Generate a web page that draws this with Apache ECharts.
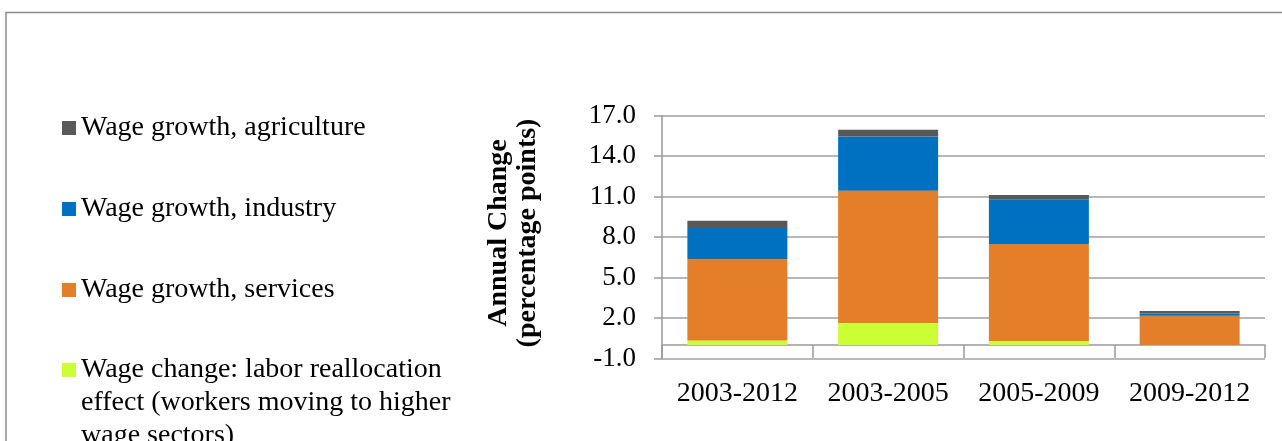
<!DOCTYPE html>
<html>
<head>
<meta charset="utf-8">
<script src="https://cdn.jsdelivr.net/npm/echarts@6/dist/echarts.min.js"></script>
<style>html,body{margin:0;padding:0;background:#fff}#c{width:1282px;height:441px}</style>
</head>
<body>
<div id="c"></div>
<script>
const categories = ['2003-2012', '2003-2005', '2005-2009', '2009-2012'];
const realloc = [0.34, 1.63, 0.30, 0.00];
const services = [6.03, 9.80, 7.18, 2.17];
const industry = [2.30, 4.02, 3.31, 0.17];
const agriculture = [0.54, 0.50, 0.32, 0.17];
const names = {
  agri: 'Wage growth, agriculture',
  ind: 'Wage growth, industry',
  serv: 'Wage growth, services',
  real: 'Wage change: labor reallocation'
};
const reallocLabel = 'Wage change: labor reallocation\neffect (workers moving to higher\nwage sectors)';

const FONT = '"Liberation Serif", "Times New Roman", serif';
const chart = echarts.init(document.getElementById('c'), null, {renderer: 'canvas'});
const bar = (name, data, color) => ({
  name, type: 'bar', stack: 'total', data, barWidth: 100,
  itemStyle: {color}, emphasis: {disabled: true}
});
chart.setOption({
  animation: false,
  textStyle: {fontFamily: FONT},
  graphic: [
    {type: 'rect', shape: {x: 6, y: 12.5, width: 1400, height: 600},
     style: {fill: 'none', stroke: '#8c8c8c', lineWidth: 1.5}, silent: true},
    {type: 'text', x: 513.5, y: 233, rotation: Math.PI / 2,
     style: {text: 'Annual Change\n(percentage points)', font: 'bold 28px ' + FONT,
             fill: '#000', align: 'center', verticalAlign: 'middle', lineHeight: 29}}
  ],
  legend: [
    {
      orient: 'vertical', left: 57, top: 109, itemWidth: 14, itemHeight: 14,
      itemGap: 53, icon: 'rect', textGap: 7, selectedMode: false,
      data: [names.agri, names.ind, names.serv],
      textStyle: {fontFamily: FONT, fontSize: 28, color: '#000', lineHeight: 14}
    },
    {
      orient: 'vertical', left: 57, top: 348.5, itemWidth: 14, itemHeight: 80,
      textGap: 7, selectedMode: false,
      data: [{name: names.real, icon: 'path://M0,0L14,0L14,14L0,14Z M0,80L0.001,80'}],
      formatter: () => reallocLabel,
      textStyle: {fontFamily: FONT, fontSize: 28, color: '#000', lineHeight: 33}
    }
  ],
  grid: {left: 662, right: 17, top: 115.5, bottom: 82.5, containLabel: false},
  xAxis: {
    type: 'category', data: categories,
    axisLine: {onZero: true, lineStyle: {color: '#9a9a9a', width: 1.5}},
    axisTick: {show: true, interval: 0, length: 13, lineStyle: {color: '#9a9a9a', width: 1.5}},
    axisLabel: {interval: 0, fontFamily: FONT, fontSize: 28, color: '#000', margin: 21}
  },
  yAxis: {
    type: 'value', min: -1, max: 17, interval: 3,
    axisLine: {show: true, lineStyle: {color: '#9a9a9a', width: 1.5}},
    axisTick: {show: true, length: 8, lineStyle: {color: '#9a9a9a', width: 1.5}},
    splitLine: {show: true, lineStyle: {color: '#a0a0a0', width: 1.5}},
    axisLabel: {fontFamily: FONT, fontSize: 27, color: '#000', margin: 26,
                formatter: v => v.toFixed(1)}
  },
  series: [
    bar(names.real, realloc, '#CCFF33'),
    bar(names.serv, services, '#E57E28'),
    bar(names.ind, industry, '#0070C0'),
    bar(names.agri, agriculture, '#595959')
  ]
});
</script>
</body>
</html>
